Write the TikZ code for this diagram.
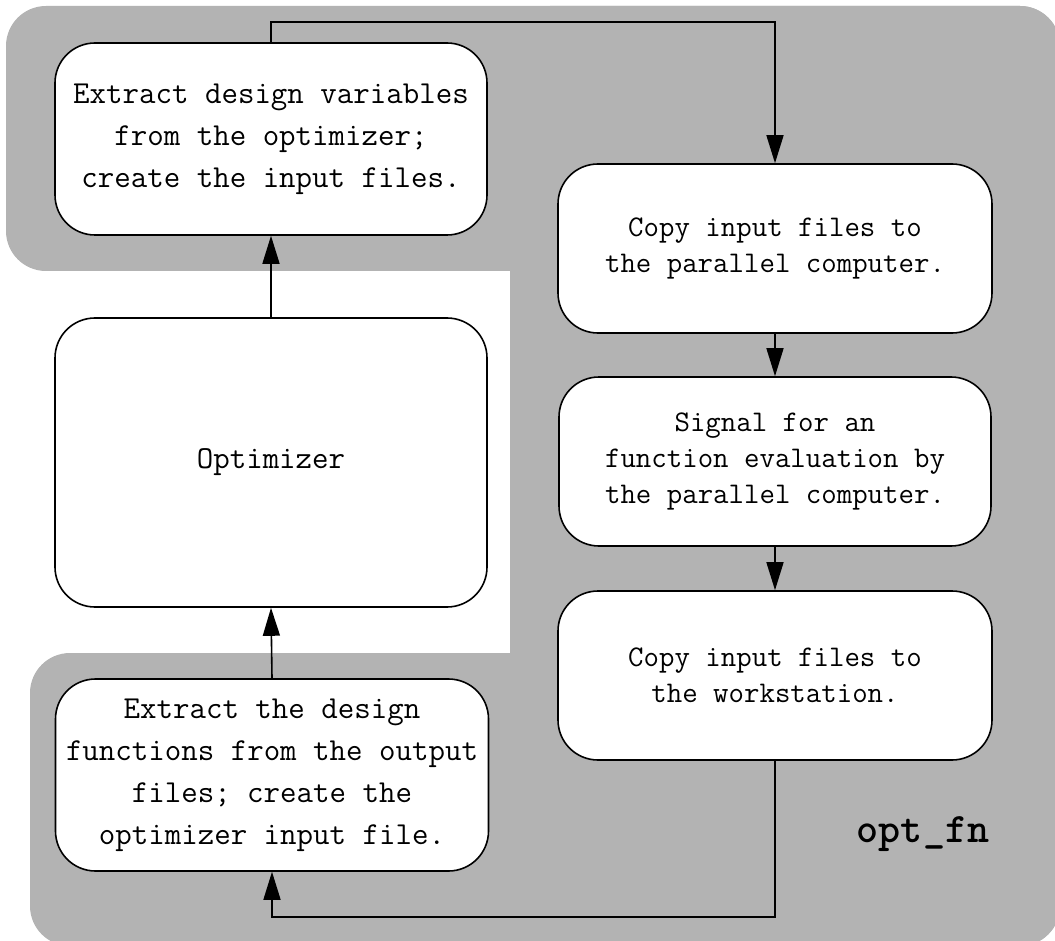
\documentclass[tikz,border=0pt]{standalone}
\usetikzlibrary{arrows.meta}
\definecolor{bggrey}{RGB}{179,179,179}
\begin{document}
\begin{tikzpicture}[x=1pt,y=-1pt,
  stepbox/.style={draw=black, fill=white, line width=1.6pt, rounded corners=40pt,
    align=center, inner sep=0pt, font=\ttfamily\fontsize{30}{36}\selectfont,
    minimum width=432pt},
  leftbox/.style={stepbox, font=\ttfamily\fontsize{32}{42}\selectfont},
  conn/.style={line width=1.6pt, -{Triangle[length=28pt,width=17pt]}}]
\useasboundingbox (0,0) rectangle (1055,941);
\clip (0,0) rectangle (1055,941);
% grey background
\fill[bggrey, rounded corners=40pt] (6,6) rectangle (1060,271);
\fill[bggrey, rounded corners=40pt] (510,6) rectangle (1060,946);
\fill[bggrey, rounded corners=40pt] (30,653) rectangle (1060,946);
% nodes
\node[leftbox, minimum height=192pt] (n1) at (271,139)
  {Extract design variables\\from the optimizer;\\create the input files.};
\node[leftbox, minimum height=289pt] (n2) at (271,462.5) {Optimizer};
\node[leftbox, minimum height=192pt, minimum width=433pt] (n3) at (272,775)
  {Extract the design\\functions from the output\\files; create the\\optimizer input file.};
\node[stepbox, minimum width=434pt, minimum height=169pt] (n4) at (775,248.5)
  {Copy input files to\\the parallel computer.};
\node[stepbox, minimum height=169pt] (n5) at (775,461.5)
  {Signal for an\\function evaluation by\\the parallel computer.};
\node[stepbox, minimum width=434pt, minimum height=169pt] (n6) at (775,675.5)
  {Copy input files to\\the workstation.};
\node[font=\ttfamily\bfseries\fontsize{42}{42}\selectfont, inner sep=0pt] (lbl) at (923,834) {opt\_fn};
% connectors
\coordinate (topy) at (0,22);
\coordinate (boty) at (0,917);
\draw[conn] (n1.north) -- (n1.north |- topy) -| (n4.north);
\draw[conn] (n2.north) -- (n1.south);
\draw[conn] (n3.north) -- (n2.south);
\draw[conn] (n4.south) -- (n5.north);
\draw[conn] (n5.south) -- (n6.north);
\draw[conn] (n6.south) -- (n6.south |- boty) -| (n3.south);
\end{tikzpicture}
\end{document}
